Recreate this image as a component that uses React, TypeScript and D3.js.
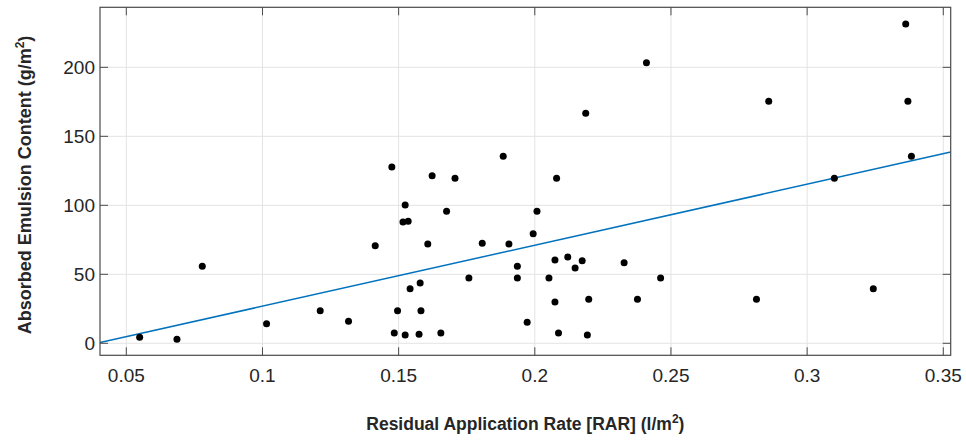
import React from "react";
import * as d3 from "d3";

// Residual Application Rate [RAR] (l/m²)
const rar: number[] = [
  0.0549, 0.0686, 0.0779, 0.1015, 0.1212, 0.1316, 0.1414, 0.1475, 0.1484, 0.1496,
  0.1516, 0.1524, 0.1524, 0.1535, 0.1542, 0.1579, 0.1582, 0.1575, 0.1607, 0.1623,
  0.1655, 0.1676, 0.1707, 0.1758, 0.1807, 0.1884, 0.1905, 0.1936, 0.1936, 0.1972,
  0.1994, 0.2008, 0.2052, 0.2074, 0.2074, 0.2087, 0.2080, 0.2121, 0.2148, 0.2174,
  0.2187, 0.2198, 0.2193, 0.2328, 0.2377, 0.2410, 0.2462, 0.2814, 0.2859, 0.3100,
  0.3243, 0.3362, 0.3370, 0.3383,
];
// Absorbed Emulsion Content (g/m²)
const emulsion: number[] = [
  4.3, 2.9, 55.8, 14.2, 23.6, 15.9, 70.7, 127.8, 7.5, 23.6,
  87.9, 100.2, 6.0, 88.4, 39.6, 43.7, 23.6, 6.5, 72.0, 121.4,
  7.5, 95.7, 119.6, 47.3, 72.5, 135.5, 72.0, 55.8, 47.3, 15.2,
  79.4, 95.7, 47.3, 60.4, 29.9, 7.5, 119.6, 62.5, 54.6, 59.9,
  166.7, 31.9, 6.0, 58.4, 31.9, 203.3, 47.3, 31.9, 175.4, 119.6,
  39.6, 231.4, 175.4, 135.5,
];
const fitSlope = 442;
const fitIntercept = -17.3;
const xDomain: [number, number] = [0.04034, 0.35272];
const yDomain: [number, number] = [-8.7, 243.5];
const xTicks: number[] = [0.05, 0.1, 0.15, 0.2, 0.25, 0.3, 0.35];
const yTicks: number[] = [0, 50, 100, 150, 200];
const xTickLabels: string[] = ["0.05", "0.1", "0.15", "0.2", "0.25", "0.3", "0.35"];
const yTickLabels: string[] = ["0", "50", "100", "150", "200"];

const W = 966;
const H = 443;
const M = { left: 100, top: 7.3, right: 966 - 950.7, bottom: 443 - 355.3 };

export default function App() {
  const x = d3.scaleLinear().domain(xDomain).range([M.left, W - M.right]);
  const y = d3.scaleLinear().domain(yDomain).range([H - M.bottom, M.top]);
  const x0 = M.left, x1 = W - M.right, y0 = H - M.bottom, y1 = M.top;
  const line = d3.line<number>().x((d) => x(d)).y((d) => y(fitSlope * d + fitIntercept));
  const font = "'Liberation Sans', Arial, Helvetica, sans-serif";
  const axisColor = "#4a4a4a";
  const textColor = "#262626";
  const gridColor = "#e3e3e3";
  const tickLen = 8;
  return (
    <svg width={W} height={H} style={{ position: "absolute", left: 0, top: 0, background: "#fff" }} fontFamily={font}>
      <rect x={0} y={0} width={W} height={H} fill="#fff" />
      {/* grid */}
      {xTicks.map((t) => (
        <line key={"gx" + t} x1={x(t)} x2={x(t)} y1={y0} y2={y1} stroke={gridColor} strokeWidth={1} />
      ))}
      {yTicks.map((t) => (
        <line key={"gy" + t} x1={x0} x2={x1} y1={y(t)} y2={y(t)} stroke={gridColor} strokeWidth={1} />
      ))}
      {/* fit line */}
      <defs>
        <clipPath id="plotclip">
          <rect x={x0} y={y1} width={x1 - x0} height={y0 - y1} />
        </clipPath>
      </defs>
      <path d={line(xDomain) || ""} fill="none" stroke="#0072BD" strokeWidth={1.5} clipPath="url(#plotclip)" />
      {/* points */}
      {rar.map((v, i) => (
        <circle key={"p" + i} cx={x(v)} cy={y(emulsion[i])} r={3.5} fill="#000" />
      ))}
      {/* box */}
      <rect x={x0} y={y1} width={x1 - x0} height={y0 - y1} fill="none" stroke={axisColor} strokeWidth={1.2} />
      {/* ticks */}
      {xTicks.map((t) => (
        <g key={"tx" + t}>
          <line x1={x(t)} x2={x(t)} y1={y0} y2={y0 - tickLen} stroke={axisColor} strokeWidth={1} />
          <line x1={x(t)} x2={x(t)} y1={y1} y2={y1 + tickLen} stroke={axisColor} strokeWidth={1} />
        </g>
      ))}
      {yTicks.map((t) => (
        <g key={"ty" + t}>
          <line x1={x0} x2={x0 + tickLen} y1={y(t)} y2={y(t)} stroke={axisColor} strokeWidth={1} />
          <line x1={x1} x2={x1 - tickLen} y1={y(t)} y2={y(t)} stroke={axisColor} strokeWidth={1} />
        </g>
      ))}
      {/* tick labels */}
      {xTicks.map((t, i) => (
        <text key={"lx" + t} x={x(t)} y={382} textAnchor="middle" fontSize={19} fill={textColor}>
          {xTickLabels[i]}
        </text>
      ))}
      {yTicks.map((t, i) => (
        <text key={"ly" + t} x={95} y={y(t)} dy="0.35em" textAnchor="end" fontSize={19} fill={textColor}>
          {yTickLabels[i]}
        </text>
      ))}
      {/* axis titles */}
      <text x={(x0 + x1) / 2} y={430} textAnchor="middle" fontSize={17.5} fontWeight="bold" fill={textColor}>
        Residual Application Rate [RAR] (l/m<tspan dy={-7} fontSize={12}>2</tspan><tspan dy={7}>)</tspan>
      </text>
      <text
        transform={`translate(31,185) rotate(-90)`}
        textAnchor="middle"
        fontSize={18}
        fontWeight="bold"
        fill={textColor}
      >
        Absorbed Emulsion Content (g/m<tspan dy={-7} fontSize={12}>2</tspan><tspan dy={7}>)</tspan>
      </text>
    </svg>
  );
}
